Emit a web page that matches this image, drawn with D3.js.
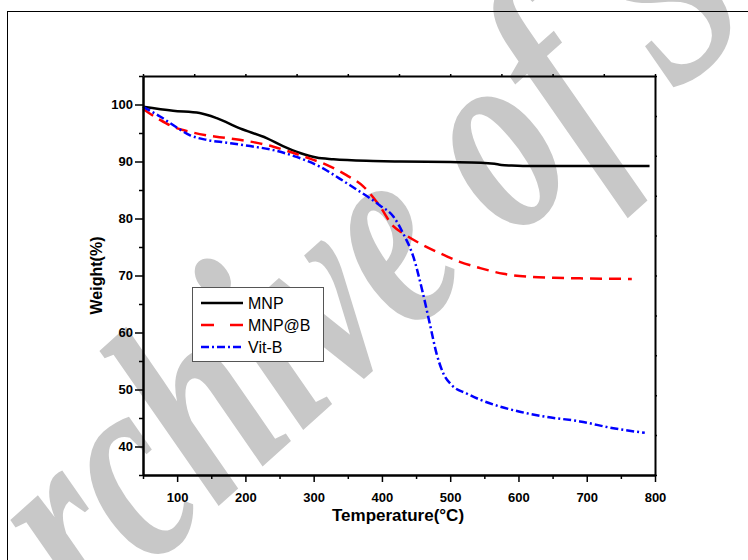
<!DOCTYPE html>
<html>
<head>
<meta charset="utf-8">
<script src="https://cdn.jsdelivr.net/npm/d3@7"></script>
<style>
  body { margin: 0; background: #fff; }
  svg { display: block; }
  text { font-family: "Liberation Sans", Arial, sans-serif; }
</style>
</head>
<body>
<div id="chart"></div>
<script>
// TGA curves
let mnpTemp = [50, 94, 133, 158, 192, 231, 255, 280, 304, 329, 387, 426, 500, 545, 565, 575, 590, 620, 700, 792];
let mnpWeight = [99.6, 98.9, 98.5, 97.6, 95.8, 94.1, 92.7, 91.5, 90.7, 90.4, 90.1, 90.0, 89.9, 89.8, 89.6, 89.4, 89.3, 89.2, 89.2, 89.2];

let mnpbTemp = [50, 75, 94, 119, 143, 173, 207, 241, 265, 290, 319, 348, 373, 395, 417, 431, 456, 485, 514, 544, 578, 612, 651, 690, 766];
let mnpbWeight = [99.2, 97.3, 96.1, 95.2, 94.6, 94.1, 93.5, 92.6, 91.7, 90.7, 89.4, 87.6, 85.6, 82.5, 78.6, 77.4, 75.6, 73.9, 72.4, 71.3, 70.3, 69.8, 69.6, 69.5, 69.4];

let vitTemp = [50, 75, 99, 119, 143, 173, 207, 241, 275, 309, 338, 360, 382, 397, 417, 431, 446, 460, 470, 480, 490, 502, 524, 544, 573, 602, 641, 690, 739, 785];
let vitWeight = [99.6, 97.9, 96.0, 94.6, 93.8, 93.3, 92.7, 92.0, 90.8, 89.1, 87.0, 85.3, 83.6, 82.3, 80.3, 77.4, 73.3, 66.9, 61.6, 56.3, 52.8, 50.8, 49.3, 48.2, 47.0, 46.1, 45.2, 44.4, 43.2, 42.4];

let xTicks = [100, 200, 300, 400, 500, 600, 700, 800];
let xMinor = [50, 150, 250, 350, 450, 550, 650, 750];
let yTicks = [40, 50, 60, 70, 80, 90, 100];
let yMinor = [35, 45, 55, 65, 75, 85, 95, 105];

let seriesNames = ["MNP", "MNP@B", "Vit-B"];
let seriesColors = ["#000000", "#ff0000", "#0000ff"];
let seriesDash = [null, "12,7", "8,3,2,3"];

//initialize variables
let width = 748,
    height = 560;
let plotL = 143, plotR = 655, plotT = 76, plotB = 475;

let svg = d3.select('#chart')
    .append('svg')
    .attr('width', width)
    .attr('height', height);

svg.append('rect')
    .attr('width', width).attr('height', height)
    .attr('fill', '#fff');

//watermark behind everything
svg.append('text')
    .attr('transform', 'translate(-10,712) rotate(-42) scale(0.9,1.25)')
    .style('font-family', '"Liberation Serif", "DejaVu Serif", serif')
    .style('font-style', 'italic')
    .style('font-weight', 'bold')
    .style('font-size', '225px')
    .attr('fill', '#c8c8c8')
    .text('Archive of SID');

//page frame
svg.append('rect')
    .attr('x', 7.5).attr('y', 11.5)
    .attr('width', 800).attr('height', 600)
    .attr('fill', 'none')
    .attr('stroke', '#000')
    .attr('stroke-width', 1);

let x = d3.scaleLinear().domain([50, 800]).range([plotL, plotR]);
let y = d3.scaleLinear().domain([35, 105]).range([plotB, plotT]);

//curves
let curves = [
    [mnpTemp, mnpWeight],
    [mnpbTemp, mnpbWeight],
    [vitTemp, vitWeight]
];
let line = d3.line()
    .x(d => x(d[0]))
    .y(d => y(d[1]))
    .curve(d3.curveMonotoneX);

curves.forEach(function(c, i) {
    let pts = c[0].map((t, j) => [t, c[1][j]]);
    svg.append('path')
        .attr('d', line(pts))
        .attr('fill', 'none')
        .attr('stroke', seriesColors[i])
        .attr('stroke-width', 2.5)
        .attr('stroke-dasharray', seriesDash[i]);
});

//axes
function styleAxis(g) {
    g.select('.domain').attr('stroke-width', 2);
    g.selectAll('.tick line').attr('stroke-width', 1.5);
    g.selectAll('text')
        .style('font-family', '"Liberation Sans", Arial, sans-serif')
        .style('font-weight', 'bold')
        .style('font-size', '13px')
        .attr('fill', '#000');
}

svg.append('g')
    .attr('transform', `translate(0,${plotB})`)
    .call(d3.axisBottom(x).tickValues(xMinor).tickSize(4).tickFormat('').tickSizeOuter(0))
    .call(styleAxis);
svg.append('g')
    .attr('transform', `translate(0,${plotB})`)
    .call(d3.axisBottom(x).tickValues(xTicks).tickSize(7).tickPadding(11).tickSizeOuter(0))
    .call(styleAxis);

svg.append('g')
    .attr('transform', `translate(${plotL},0)`)
    .call(d3.axisLeft(y).tickValues(yMinor).tickSize(4).tickFormat('').tickSizeOuter(0))
    .call(styleAxis);
svg.append('g')
    .attr('transform', `translate(${plotL},0)`)
    .call(d3.axisLeft(y).tickValues(yTicks).tickSize(8).tickPadding(2).tickSizeOuter(0))
    .call(styleAxis);

//top and right axes, small outer ticks
svg.append('g')
    .attr('transform', `translate(0,${plotT})`)
    .call(d3.axisTop(x).tickValues(d3.range(50, 801, 75)).tickSize(2).tickFormat('').tickSizeOuter(0))
    .call(styleAxis);
svg.append('g')
    .attr('transform', `translate(${plotR},0)`)
    .call(d3.axisRight(y).tickValues(d3.range(35, 105.1, 7)).tickSize(2).tickFormat('').tickSizeOuter(0))
    .call(styleAxis);

//axis titles
svg.append('text')
    .attr('x', 398).attr('y', 521)
    .attr('text-anchor', 'middle')
    .style('font-weight', 'bold')
    .style('font-size', '17px')
    .text('Temperature(°C)');

svg.append('text')
    .attr('transform', 'translate(102,275.5) rotate(-90)')
    .attr('text-anchor', 'middle')
    .style('font-weight', 'bold')
    .style('font-size', '16px')
    .text('Weight(%)');

//legend
let legend = svg.append('g');
legend.append('rect')
    .attr('x', 192.5).attr('y', 287.5)
    .attr('width', 131).attr('height', 74)
    .attr('fill', '#fff')
    .attr('stroke', '#555')
    .attr('stroke-width', 1);

let rowY = [303, 325, 347];
seriesNames.forEach(function(name, i) {
    legend.append('line')
        .attr('x1', 201).attr('x2', 243)
        .attr('y1', rowY[i]).attr('y2', rowY[i])
        .attr('stroke', seriesColors[i])
        .attr('stroke-width', 2.5)
        .attr('stroke-dasharray', i === 1 ? '13,16' : seriesDash[i]);
    legend.append('text')
        .attr('x', 248).attr('y', rowY[i] + 6)
        .style('font-size', '16px')
        .text(name);
});
</script>
</body>
</html>
